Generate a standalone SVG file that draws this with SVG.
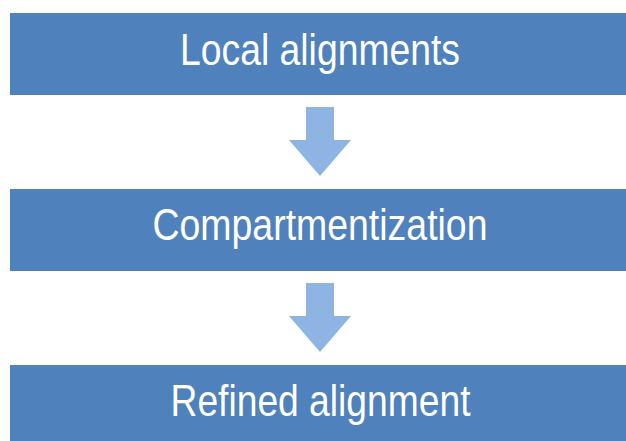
<svg xmlns="http://www.w3.org/2000/svg" width="626" height="441" viewBox="0 0 626 441">
  <style>
    .box { fill: #4F81BD; }
    .arrow { fill: #8EB4E3; }
    .label { font-family: "Liberation Sans", Arial, sans-serif; font-size: 44px; fill: #FFFFFF; text-anchor: middle; }
  </style>
  <rect width="626" height="441" fill="#FFFFFF"/>
  <g id="connectors">
    <polygon class="arrow" points="306,107 334,107 334,140 351,140 320,176 289,140 306,140"/>
    <polygon class="arrow" points="306,283 334,283 334,316 351,316 320,352 289,316 306,316"/>
  </g>
  <g id="node-local">
    <rect class="box" x="10" y="13" width="620" height="82"/>
    <text class="label" x="320" y="64.5" textLength="280" lengthAdjust="spacingAndGlyphs">Local alignments</text>
  </g>
  <g id="node-compartment">
    <rect class="box" x="10" y="189" width="620" height="82"/>
    <text class="label" x="320" y="240" textLength="335" lengthAdjust="spacingAndGlyphs">Compartmentization</text>
  </g>
  <g id="node-refined">
    <rect class="box" x="10" y="365" width="620" height="82"/>
    <text class="label" x="320.5" y="415.5" textLength="300" lengthAdjust="spacingAndGlyphs">Refined alignment</text>
  </g>
</svg>
